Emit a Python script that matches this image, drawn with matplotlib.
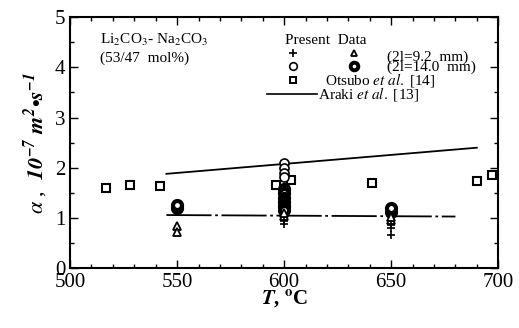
import numpy as np
import matplotlib
matplotlib.use("Agg")
from matplotlib import pyplot as plt
from matplotlib.ticker import MultipleLocator

plt.rcParams['font.family'] = ['Liberation Serif', 'DejaVu Serif']
plt.rcParams['mathtext.fontset'] = 'stix'

# Otsubo et al. [14]
otsubo_T = [517, 528, 542, 596, 603, 641, 690, 697]
otsubo_a = [1.60, 1.66, 1.64, 1.66, 1.76, 1.70, 1.73, 1.86]

# Araki et al. [13]
araki_T = [545, 690]
araki_a = [1.88, 2.40]

# present data, 2l = 9.2 mm
plus_T = [600, 600, 650, 650, 650]
plus_a = [0.94, 0.88, 0.86, 0.80, 0.66]
tri_T = [550, 550, 600, 600, 650, 650]
tri_a = [0.84, 0.73, 1.05, 1.10, 0.97, 1.03]

# present data, 2l = 14.0 mm
open_T = [600, 600, 600, 600]
open_a = [2.10, 2.00, 1.90, 1.82]
bold_T = [550, 550, 600, 600, 600, 600, 600, 600, 650, 650]
bold_a = [1.20, 1.25, 1.58, 1.49, 1.40, 1.31, 1.23, 1.16, 1.13, 1.20]

# fit of present data
fit_T = [545, 680]
fit_a = [1.06, 1.03]

fig = plt.figure(figsize=(5.19, 3.28), dpi=100)
ax = fig.add_axes([0.135, 0.182, 0.825, 0.766])

ax.plot(araki_T, araki_a, color='black', lw=1.3)
ax.plot(fit_T, fit_a, color='black', lw=1.3, dashes=(25, 2, 1.5, 2))
ax.plot(otsubo_T, otsubo_a, 's', ms=5.5, mfc='white', mec='black', mew=1.5, ls='none')
ax.plot(open_T, open_a, 'o', ms=6.5, mfc='white', mec='black', mew=1.2, ls='none')
ax.plot(bold_T, bold_a, 'o', ms=6.5, mfc='white', mec='black', mew=3.0, ls='none')
ax.plot(tri_T, tri_a, '^', ms=6, mfc='white', mec='black', mew=1.3, ls='none')
ax.plot(plus_T, plus_a, '+', ms=6, mec='black', mew=1.2, ls='none')

ax.set_xlim(500, 700)
ax.set_ylim(0, 5)
ax.xaxis.set_major_locator(MultipleLocator(50))
ax.xaxis.set_minor_locator(MultipleLocator(10))
ax.yaxis.set_major_locator(MultipleLocator(1))
ax.yaxis.set_minor_locator(MultipleLocator(0.5))
ax.tick_params(which='both', direction='in', top=True, right=True, labelsize=15, width=1)
ax.tick_params(which='major', length=6)
ax.tick_params(which='minor', length=3)
for s in ax.spines.values():
    s.set_linewidth(1.5)

ax.set_xlabel(r'$\mathbfit{T}$, $^{\mathbf{o}}$C', fontsize=15, fontweight='bold', labelpad=-2)
ax.set_ylabel(r'$\alpha$ ,  $\mathbfit{10^{-7}\ m^{2}}$$\bullet$$\mathbfit{s^{-1}}$', fontsize=16, labelpad=4)

# annotations
ax.text(0.07, 0.91, r'Li$_2$CO$_3$- Na$_2$CO$_3$', transform=ax.transAxes, fontsize=11, va='center')
ax.text(0.07, 0.835, '(53/47  mol%)', transform=ax.transAxes, fontsize=11, va='center')

# legend drawn by hand
tr = ax.transAxes
ax.text(0.502, 0.908, 'Present  Data', transform=tr, fontsize=11, va='center')
ax.plot([0.520], [0.857], '+', ms=6, mec='black', mew=1.2, transform=tr)
ax.plot([0.662], [0.857], '^', ms=5, mfc='white', mec='black', mew=1.3, transform=tr)
ax.plot([0.520], [0.805], 'o', ms=5.5, mfc='white', mec='black', mew=1.2, transform=tr)
ax.plot([0.662], [0.805], 'o', ms=5.5, mfc='white', mec='black', mew=2.8, transform=tr)
ax.text(0.740, 0.840, '(2l=9.2  mm)', transform=tr, fontsize=11, va='center')
ax.text(0.740, 0.800, '(2l=14.0  mm)', transform=tr, fontsize=11, va='center')
ax.plot([0.520], [0.749], 's', ms=4.5, mfc='white', mec='black', mew=1.4, transform=tr)
ax.text(0.596, 0.749, r'Otsubo $\it{et\ al.}$ [14]', transform=tr, fontsize=11, va='center')
ax.plot([0.460, 0.577], [0.693, 0.693], color='black', lw=1.2, transform=tr)
ax.text(0.579, 0.693, r'Araki $\it{et\ al.}$ [13]', transform=tr, fontsize=11, va='center')

fig.savefig('out.png', dpi=100)
